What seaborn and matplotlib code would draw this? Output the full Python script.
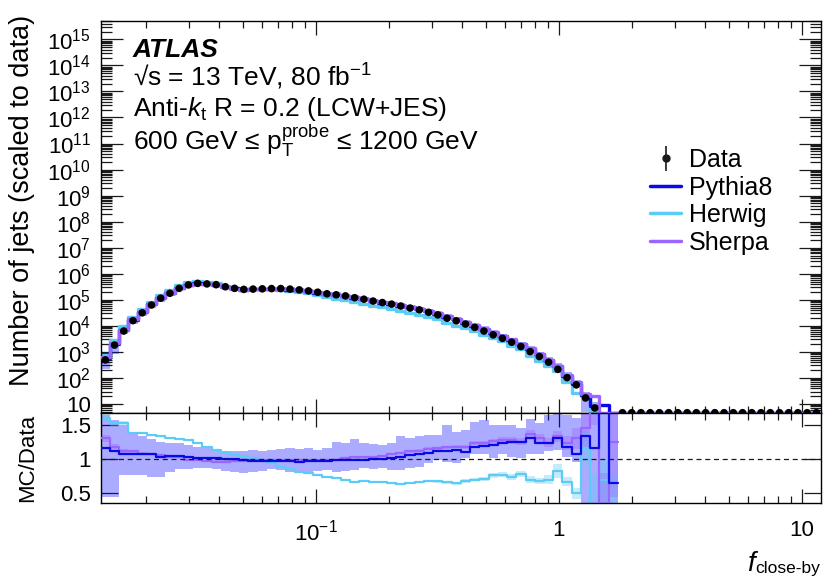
import numpy as np
import matplotlib
matplotlib.use("Agg")
import matplotlib.pyplot as plt
import seaborn as sns
from matplotlib.ticker import LogLocator, NullFormatter, FuncFormatter, FixedLocator

# log binning of f_close-by
x_lo, x_hi, n_bins = 0.013, 12.0, 78
edges = np.logspace(np.log10(x_lo), np.log10(x_hi), n_bins + 1)
centers = np.sqrt(edges[:-1] * edges[1:])

# data yields per bin (bins past ~1.8 are empty)
data_counts = [490, 1820, 6300, 15800, 31600, 63000, 115000, 178000, 275000, 372000,
               427000, 407000, 380000, 316000, 275000, 251000, 257000, 263000, 269000, 269000,
               257000, 240000, 219000, 195000, 170000, 155000, 141000, 120000, 105000, 89000,
               78000, 68000, 57500, 48000, 41000, 33000, 26300, 19500, 15500, 11700,
               8700, 6300, 4500, 3300, 2350, 1600, 1020, 660, 400, 214,
               102, 54, 17, 7, 3, 2,
               0, 0, 0, 0, 0, 0, 0, 0, 0, 0, 0, 0, 0, 0, 0, 0, 0, 0, 0, 0, 0, 0]

# MC / data ratios for the filled bins
pythia_ratio = [1.155, 1.11, 1.07, 1.08, 1.07, 1.07, 1.03, 1.05, 1.04, 1.03,
                1.02, 1.02, 1.01, 1.0, 1.0, 0.98, 0.975, 0.975, 0.975, 0.975,
                0.965, 0.96, 0.97, 0.975, 0.975, 0.985, 0.985, 0.99, 0.99, 0.995,
                1.0, 1.02, 1.03, 1.06, 1.08, 1.095, 1.11, 1.12, 1.13, 1.10,
                1.18, 1.19, 1.20, 1.23, 1.25, 1.25, 1.31, 1.24, 1.23, 1.30,
                1.17, 1.07, 1.33, 1.165, 3.0, 0.645]
herwig_ratio = [1.60, 1.52, 1.52, 1.38, 1.38, 1.35, 1.33, 1.31, 1.29, 1.27,
                1.23, 1.18, 1.13, 1.09, 1.06, 1.04, 1.02, 0.985, 0.94, 0.89,
                0.85, 0.81, 0.80, 0.77, 0.74, 0.72, 0.69, 0.67, 0.68, 0.67,
                0.66, 0.645, 0.64, 0.65, 0.66, 0.68, 0.675, 0.66, 0.645, 0.68,
                0.70, 0.71, 0.76, 0.77, 0.74, 0.78, 0.70, 0.68, 0.70, 0.83,
                0.67, 0.50, 1.16, 0.2, 0.69, 0.2]
sherpa_ratio = [1.30, 1.18, 1.11, 1.11, 1.08, 1.08, 1.06, 1.035, 1.03, 0.99,
                0.985, 0.965, 0.96, 0.96, 0.975, 0.975, 0.98, 0.98, 0.985, 0.985,
                0.985, 0.985, 0.985, 0.985, 0.985, 0.99, 1.01, 1.03, 1.035, 1.035,
                1.04, 1.07, 1.09, 1.11, 1.12, 1.15, 1.155, 1.17, 1.18, 1.175,
                1.23, 1.23, 1.26, 1.28, 1.27, 1.25, 1.37, 1.30, 1.24, 1.33,
                1.23, 1.30, 1.45, 3.0, 0.2, 1.25]

# Pythia8 uncertainty band (ratio units)
pythia_band_hi = [1.64, 1.57, 1.50, 1.37, 1.33, 1.29, 1.25, 1.24, 1.23, 1.20,
                  1.18, 1.17, 1.14, 1.11, 1.11, 1.12, 1.13, 1.12, 1.13, 1.14,
                  1.155, 1.14, 1.155, 1.13, 1.155, 1.25, 1.23, 1.29, 1.23, 1.22,
                  1.20, 1.23, 1.33, 1.30, 1.33, 1.35, 1.35, 1.50, 1.40, 1.42,
                  1.54, 1.57, 1.50, 1.50, 1.50, 1.45, 1.59, 1.52, 1.64, 1.67,
                  1.64, 1.60, 1.70, 1.70, 1.70, 1.70]
pythia_band_lo = [0.44, 0.44, 0.77, 0.77, 0.77, 0.74, 0.74, 0.815, 0.85, 0.85,
                  0.865, 0.865, 0.85, 0.825, 0.815, 0.79, 0.815, 0.83, 0.85, 0.84,
                  0.815, 0.80, 0.815, 0.83, 0.84, 0.815, 0.82, 0.835, 0.865, 0.85,
                  0.865, 0.84, 0.84, 0.865, 0.89, 0.94, 0.985, 0.95, 0.94, 1.01,
                  1.08, 1.07, 1.01, 1.08, 1.03, 1.01, 1.08, 1.08, 1.11, 1.13,
                  1.03, 0.95, 0.30, 0.30, 0.30, 0.30]
herwig_err = [0.06, 0.04, 0.03, 0.02, 0.02, 0.015, 0.015, 0.01, 0.01, 0.01,
              0.01, 0.01, 0.01, 0.01, 0.01, 0.01, 0.01, 0.01, 0.01, 0.01,
              0.01, 0.01, 0.01, 0.01, 0.01, 0.01, 0.01, 0.01, 0.01, 0.01,
              0.01, 0.01, 0.01, 0.015, 0.015, 0.015, 0.02, 0.02, 0.02, 0.025,
              0.025, 0.03, 0.03, 0.035, 0.04, 0.04, 0.05, 0.05, 0.06, 0.10,
              0.07, 0.08, 0.25, 0.6, 0.3, 0.6]
sherpa_err = [0.05, 0.04, 0.03, 0.02, 0.02, 0.015, 0.015, 0.01, 0.01, 0.01,
              0.01, 0.01, 0.01, 0.01, 0.01, 0.01, 0.01, 0.01, 0.01, 0.01,
              0.01, 0.01, 0.01, 0.01, 0.01, 0.01, 0.01, 0.01, 0.01, 0.01,
              0.01, 0.015, 0.015, 0.015, 0.02, 0.02, 0.02, 0.025, 0.025, 0.03,
              0.03, 0.035, 0.035, 0.04, 0.045, 0.05, 0.06, 0.06, 0.07, 0.08,
              0.10, 0.15, 0.3, 1.5, 0.6, 0.8]

labels = ["Data", "Pythia8", "Herwig", "Sherpa"]
col_pythia, col_herwig, col_sherpa = "#0a0ae6", "#5ccbf5", "#9a66ff"

sns.set_theme(style="ticks")
plt.rcParams["font.family"] = ["Liberation Sans", "DejaVu Sans"]
plt.rcParams["mathtext.fontset"] = "custom"
plt.rcParams["mathtext.rm"] = "Liberation Sans"
plt.rcParams["mathtext.it"] = "Liberation Sans:italic"
plt.rcParams["mathtext.bf"] = "Liberation Sans:bold"
for key in ("text.color", "axes.labelcolor", "xtick.color", "ytick.color", "axes.edgecolor"):
    plt.rcParams[key] = "black"

data = np.array(data_counts, dtype=float)
n_mc = len(pythia_ratio)
e_mc = edges[:n_mc + 1]
y_min, y_max = 4.6, 5e15


def steps(v):
    v = np.asarray(v, dtype=float)
    return np.append(v, v[-1])


fig = plt.figure(figsize=(8.3, 5.88), dpi=100)
ax = fig.add_axes([0.1213, 0.2981, 0.8679, 0.6659])
rax = fig.add_axes([0.1213, 0.1440, 0.8679, 0.1541])

herwig_set = (herwig_ratio, herwig_err, col_herwig)
sherpa_set = (sherpa_ratio, sherpa_err, col_sherpa)
pythia_set = (pythia_ratio, None, col_pythia)

# ---- main panel
ax.fill_between(e_mc, steps(data[:n_mc] * np.array(pythia_band_lo)),
                steps(data[:n_mc] * np.array(pythia_band_hi)),
                step="post", color="blue", alpha=0.33, lw=0, zorder=1)
for z, (ratio, err, col) in enumerate([herwig_set, pythia_set, sherpa_set]):
    mc = np.concatenate([data[:n_mc] * np.array(ratio), np.zeros(n_bins - n_mc)])
    sns.lineplot(x=edges, y=steps(np.clip(mc, y_min, None)), ax=ax, color=col, lw=2.4,
                 drawstyle="steps-post", estimator=None, sort=False, legend=False,
                 zorder=2 + z)

filled = data > 0
sns.scatterplot(x=centers[filled], y=data[filled], ax=ax, color="black", s=30,
                edgecolor="none", zorder=6, legend=False)
sns.scatterplot(x=centers[~filled], y=np.full((~filled).sum(), y_min), ax=ax,
                color="black", s=30, edgecolor="none", zorder=6, legend=False,
                clip_on=False)

ax.set_xscale("log")
ax.set_yscale("log")
ax.set_xlim(x_lo, x_hi)
ax.set_ylim(y_min, y_max)
ax.yaxis.set_major_locator(FixedLocator(10.0 ** np.arange(1, 16)))
ax.yaxis.set_minor_locator(LogLocator(base=10, subs=np.arange(2, 10), numticks=400))
ax.yaxis.set_minor_formatter(NullFormatter())
ax.yaxis.set_major_formatter(FuncFormatter(
    lambda v, p: "10" if abs(v - 10) < 1e-6 else r"$10^{%d}$" % round(np.log10(v))))
ax.xaxis.set_major_locator(FixedLocator([0.1, 1.0, 10.0]))
ax.xaxis.set_major_formatter(NullFormatter())
ax.tick_params(axis="both", which="both", direction="in", top=True, right=True,
               labelbottom=False, labelsize=16, width=0.9, color="k")
ax.tick_params(axis="y", which="major", length=16, pad=7)
ax.tick_params(axis="y", which="minor", length=8)
ax.tick_params(axis="x", which="major", length=10)
ax.tick_params(axis="x", which="minor", length=5)

# ---- ratio panel
rax.fill_between(e_mc, steps(pythia_band_lo), steps(pythia_band_hi), step="post",
                 color="blue", alpha=0.33, lw=0, zorder=1)
for ratio, err, col in (herwig_set, sherpa_set):
    r = np.array(ratio)
    rax.fill_between(e_mc, steps(r - np.array(err)), steps(r + np.array(err)), step="post",
                     color=col, alpha=0.35, lw=0, zorder=1)
for z, (ratio, err, col) in enumerate([herwig_set, sherpa_set, pythia_set]):
    sns.lineplot(x=e_mc, y=steps(ratio), ax=rax, color=col, lw=1.6,
                 drawstyle="steps-post", estimator=None, sort=False, legend=False,
                 zorder=2 + z)
rax.axhline(1.0, color="k", ls=(0, (4, 3)), lw=0.9, zorder=5)

rax.set_xscale("log")
rax.set_xlim(x_lo, x_hi)
rax.set_ylim(0.354, 1.675)
rax.yaxis.set_major_locator(FixedLocator([0.5, 1.0, 1.5]))
rax.set_yticklabels(["0.5", "1", "1.5"])
rax.xaxis.set_major_locator(FixedLocator([0.1, 1.0, 10.0]))
rax.xaxis.set_major_formatter(FuncFormatter(
    lambda v, p: {0.1: r"$10^{-1}$", 1.0: "1", 10.0: "10"}.get(round(v, 3), "")))
rax.xaxis.set_minor_formatter(NullFormatter())
rax.tick_params(axis="both", which="both", direction="in", top=True, right=True,
                labelsize=16, width=0.9, color="k")
rax.tick_params(axis="y", which="major", length=12, pad=7)
rax.tick_params(axis="x", which="major", length=10, pad=12)
rax.tick_params(axis="x", which="minor", length=5)
for a in (ax, rax):
    a.set_xlabel("")
    a.set_ylabel("")
    for s in a.spines.values():
        s.set_linewidth(1.0)

# ---- labels and annotations
fig.text(22 / 830, 1 - 200 / 588, "Number of jets (scaled to data)", rotation=90,
         ha="center", va="center", fontsize=19.5)
fig.text(28 / 830, 1 - 458 / 588, "MC/Data", rotation=90, ha="center", va="center",
         fontsize=16)
fig.text(755 / 830, 1 - 571 / 588, "f", style="italic", fontsize=20, ha="right",
         va="baseline")
fig.text(820 / 830, 1 - 573 / 588, "close-by", fontsize=12.5, ha="right", va="baseline")

tx = 133 / 830
fig.text(tx, 1 - 57 / 588, "ATLAS", fontsize=19, fontweight="bold", style="italic",
         va="baseline")
fig.text(tx, 1 - 86 / 588, "\u221as = 13 TeV, 80 fb$^{-1}$", fontsize=19, va="baseline")
fig.text(tx, 1 - 116 / 588, r"Anti-$\mathit{k}_{\mathrm{t}}$ R = 0.2 (LCW+JES)",
         fontsize=19, va="baseline")
fig.text(tx, 1 - 150 / 588,
         "600 GeV \u2264 $\\mathrm{p}_{\\mathrm{T}}^{\\mathrm{probe}}$ \u2264 1200 GeV",
         fontsize=19, va="baseline")

# ---- legend
h_data = ax.errorbar([np.nan], [np.nan], yerr=[1], fmt="o", color="k", ms=5, elinewidth=1.2)
h_lines = [plt.Line2D([], [], color=c, lw=2.5) for c in (col_pythia, col_herwig, col_sherpa)]
ax.legend([h_data] + h_lines, labels, loc="upper left",
          bbox_to_anchor=(650 / 830, 1 - 148 / 588), bbox_transform=fig.transFigure,
          frameon=False, fontsize=18, handlelength=1.25, handletextpad=0.3,
          labelspacing=0.14, borderpad=0, borderaxespad=0)

fig.savefig("out.png", dpi=100)
